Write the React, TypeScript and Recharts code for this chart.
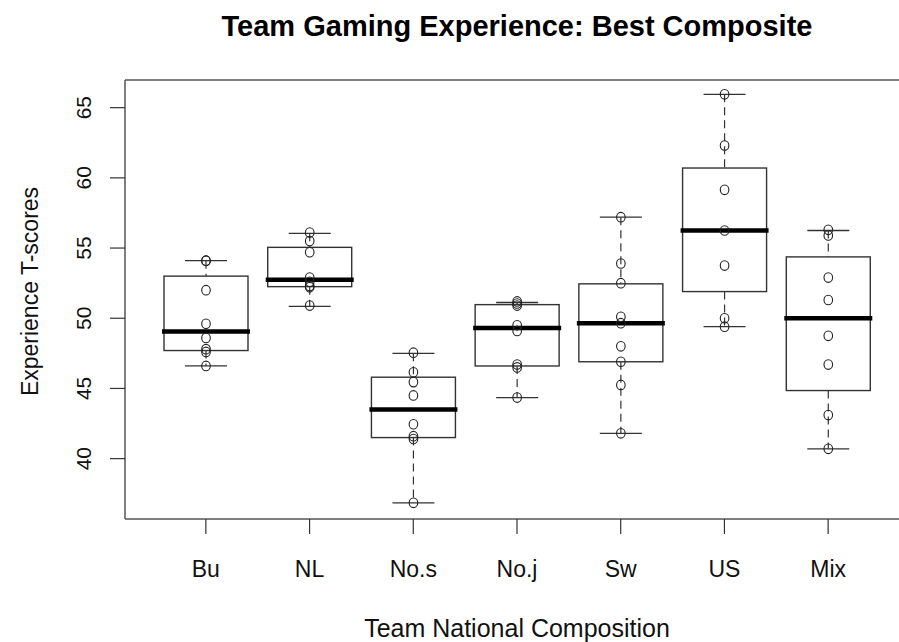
import { ComposedChart, Bar, XAxis, YAxis } from 'recharts'

const TEAMS = ['Bu', 'NL', 'No.s', 'No.j', 'Sw', 'US', 'Mix']

const WHISKER_LOW = [46.6, 50.85, 36.85, 44.35, 41.8, 49.4, 40.7]
const BOX_LOW = [47.7, 52.25, 41.5, 46.6, 46.9, 51.9, 44.85]
const MEDIAN = [49.05, 52.75, 43.5, 49.3, 49.65, 56.25, 50.0]
const BOX_HIGH = [53.0, 55.05, 45.8, 50.97, 52.45, 60.7, 54.37]
const WHISKER_HIGH = [54.1, 56.05, 47.5, 51.12, 57.2, 65.95, 56.25]

const POINTS_BU = [54.1, 54.1, 52.0, 49.6, 48.6, 47.8, 47.6, 46.6]
const POINTS_NL = [56.1, 55.5, 54.7, 52.9, 52.6, 52.3, 52.2, 50.9]
const POINTS_NOS = [47.55, 46.15, 45.45, 44.5, 42.45, 41.6, 41.4, 36.85]
const POINTS_NOJ = [51.2, 51.05, 50.9, 49.5, 49.1, 46.7, 46.5, 44.35]
const POINTS_SW = [57.2, 53.9, 52.5, 50.1, 49.65, 48.0, 46.9, 45.25, 41.8]
const POINTS_US = [65.95, 62.3, 59.15, 56.25, 53.75, 50.0, 49.4]
const POINTS_MIX = [56.3, 55.9, 52.9, 51.3, 48.75, 46.7, 43.1, 40.7]

const POINTS = [POINTS_BU, POINTS_NL, POINTS_NOS, POINTS_NOJ, POINTS_SW, POINTS_US, POINTS_MIX]

const Y_TICKS = [40, 45, 50, 55, 60, 65]
const Y_DOMAIN = [35.7, 66.97]

const FONT = '"Liberation Sans", Arial, Helvetica, sans-serif'
const LINE = '#333'

const data = TEAMS.map((team, i) => ({
  team,
  lo: WHISKER_LOW[i],
  q1: BOX_LOW[i],
  med: MEDIAN[i],
  q3: BOX_HIGH[i],
  hi: WHISKER_HIGH[i],
  points: POINTS[i],
}))

// one range bar per team (whisker low..high); the box, median and points are
// placed along the same pixel span the y scale gave the bar
function BoxShape(props: any) {
  const { x, y, width, height, payload } = props
  const top = Math.min(y, y + height)
  const bottom = Math.max(y, y + height)
  const toY = (v: number) => top + ((payload.hi - v) / (payload.hi - payload.lo)) * (bottom - top)
  const cx = x + width / 2
  const capHalf = width / 4
  const yQ3 = toY(payload.q3)
  const yQ1 = toY(payload.q1)
  const yMed = toY(payload.med)
  return (
    <g>
      <line x1={cx} x2={cx} y1={top} y2={yQ3} stroke={LINE} strokeWidth={1.2} strokeDasharray="8 5" />
      <line x1={cx} x2={cx} y1={yQ1} y2={bottom} stroke={LINE} strokeWidth={1.2} strokeDasharray="8 5" />
      <line x1={cx - capHalf} x2={cx + capHalf} y1={top} y2={top} stroke={LINE} strokeWidth={1.3} />
      <line x1={cx - capHalf} x2={cx + capHalf} y1={bottom} y2={bottom} stroke={LINE} strokeWidth={1.3} />
      <rect x={x} y={yQ3} width={width} height={yQ1 - yQ3} fill="none" stroke={LINE} strokeWidth={1.4} />
      <line x1={x - 2} x2={x + width + 2} y1={yMed} y2={yMed} stroke="#000" strokeWidth={4.5} />
      {payload.points.map((v: number, k: number) => (
        <ellipse key={k} cx={cx} cy={toY(v)} rx={4.3} ry={4.8} fill="none" stroke="#222" strokeWidth={1.1} />
      ))}
    </g>
  )
}

function YTick(props: any) {
  const { x, y, payload } = props
  return (
    <text x={x} y={y} transform={`rotate(-90, ${x}, ${y})`} textAnchor="middle"
      fontFamily={FONT} fontSize={21} fill="#111">
      {payload.value}
    </text>
  )
}

function XTick(props: any) {
  const { x, y, payload } = props
  return (
    <text x={x} y={y} textAnchor="middle" fontFamily={FONT} fontSize={23} fill="#111">
      {payload.value}
    </text>
  )
}

export default function App() {
  return (
    <div style={{ position: 'fixed', left: 0, top: 0, width: 899, height: 642, overflow: 'hidden', background: '#fff' }}>
      <div style={{
        position: 'absolute', left: 0, top: 12, width: 1034, textAlign: 'center',
        fontFamily: FONT, fontWeight: 'bold', fontSize: 29, lineHeight: '29px', color: '#000',
      }}>
        Team Gaming Experience: Best Composite
      </div>
      <div style={{ position: 'absolute', left: 0, top: 0 }}>
        <ComposedChart width={920} height={642} data={data} margin={{ top: 79, right: 10, bottom: 0, left: 0 }}>
          <XAxis
            dataKey="team"
            type="category"
            height={123}
            padding={{ left: 29, right: 29 }}
            axisLine={{ stroke: '#555', strokeWidth: 1.5 }}
            tickLine={{ stroke: '#333', strokeWidth: 1.2 }}
            tickSize={15}
            tickMargin={43}
            tick={<XTick />}
            interval={0}
            label={{
              content: (p: any) => {
                const vb = p.viewBox
                return (
                  <text x={vb.x + vb.width / 2} y={637} textAnchor="middle" fontFamily={FONT} fontSize={25} fill="#111">
                    Team National Composition
                  </text>
                )
              },
            }}
          />
          <XAxis
            xAxisId="top"
            dataKey="team"
            orientation="top"
            height={1}
            padding={{ left: 29, right: 29 }}
            tick={false}
            tickLine={false}
            axisLine={{ stroke: '#555', strokeWidth: 1.5 }}
          />
          <YAxis
            type="number"
            width={125}
            domain={Y_DOMAIN}
            allowDataOverflow
            ticks={Y_TICKS}
            axisLine={{ stroke: '#555', strokeWidth: 1.5 }}
            tickLine={{ stroke: '#333', strokeWidth: 1.2 }}
            tickSize={15}
            tickMargin={19}
            tick={<YTick />}
            interval={0}
            label={{
              content: (p: any) => {
                const vb = p.viewBox
                const cy = vb.y + vb.height / 2 - 8
                return (
                  <text x={38} y={cy} transform={`rotate(-90, 38, ${cy})`} textAnchor="middle"
                    fontFamily={FONT} fontSize={23} fill="#111">
                    Experience T-scores
                  </text>
                )
              },
            }}
          />
          <YAxis
            yAxisId="right"
            orientation="right"
            width={1}
            tick={false}
            tickLine={false}
            axisLine={{ stroke: '#555', strokeWidth: 1.5 }}
          />
          <Bar
            dataKey={(d: any) => [d.lo, d.hi]}
            barSize={84}
            shape={<BoxShape />}
            isAnimationActive={false}
          />
        </ComposedChart>
      </div>
    </div>
  )
}
